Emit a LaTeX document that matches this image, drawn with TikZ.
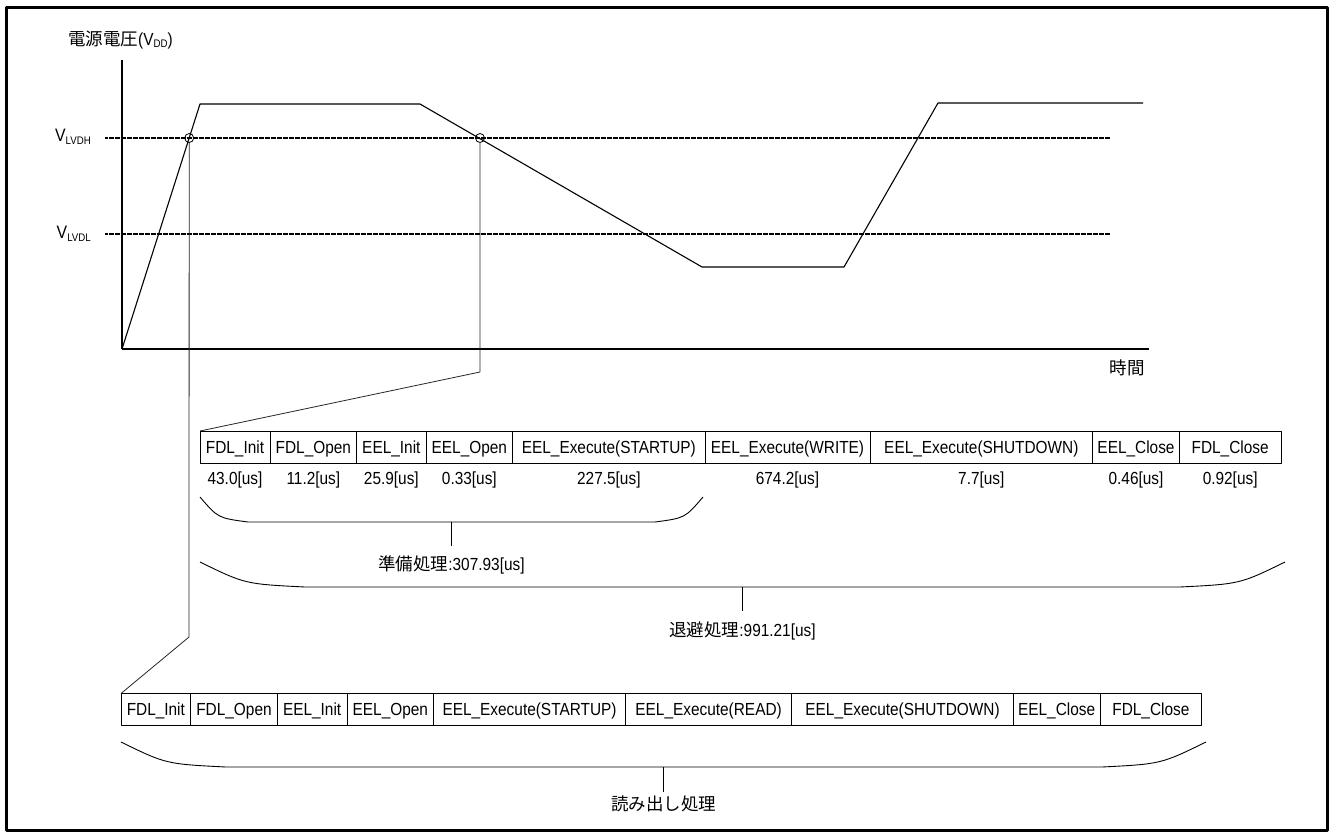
\documentclass[tikz,border=0pt]{standalone}
\usepackage{fontspec}
\setmainfont{Liberation Sans}[FakeStretch=0.88]
\newfontfamily\jp{Noto Sans CJK JP}
\usetikzlibrary{positioning}
\newcommand\lowtext[2][3pt]{\raisebox{-#1}{\fontsize{11}{12}\selectfont #2}}
\tikzset{
  cell/.style={draw, line width=0.8pt, inner sep=0pt, outer sep=0pt, minimum height=32,
    text height=12.5pt, text depth=0pt, font=\fontsize{17.5}{20}\selectfont},
  val/.style={inner sep=0pt, text height=12.5pt, text depth=0pt, font=\fontsize{17.5}{20}\selectfont},
  thresh/.style={line width=1.5pt, dash pattern=on 0.8pt off 0.4pt},
  crosspt/.style={draw, circle, line width=0.8pt, minimum size=9, inner sep=0pt},
  guide/.style={line width=0.8pt, black!85},
  brace/.style={line width=0.9pt},
  sumlabel/.style={inner sep=0pt, anchor=base, font=\fontsize{17.5}{20}\selectfont},
}
\begin{document}
\begin{tikzpicture}[x=1pt, y=-1pt, line join=round]
\useasboundingbox (0,0) rectangle (1330,836);
\draw[line width=3pt] (6,7) rectangle (1327,830);

% axes and levels
\node[anchor=base west, inner sep=0pt, font=\fontsize{17.5}{20}\selectfont] (vdd) at (68,45) {{\jp 電源電圧}(V\lowtext[2.5pt]{DD})};
\draw[line width=1.3pt] (122,60) -- (122,349);
\draw[line width=2pt] (122,349) -- (1149,349);
\node[anchor=base east, inner sep=0pt, font=\fontsize{17.5}{20}\selectfont\jp] (tlabel) at (1145,374) {時間};
\draw[thresh] (105,138) -- (1110,138);
\draw[thresh] (105,234) -- (1110,234);
\node[anchor=base east, inner sep=0pt, font=\fontsize{18}{18}\selectfont] (vh) at (91,141.7) {V\lowtext{LVDH}};
\node[anchor=base east, inner sep=0pt, font=\fontsize{18}{18}\selectfont] (vl) at (91,238) {V\lowtext{LVDL}};

% supply voltage
\draw[line width=1.1pt] (122,349) -- (200,104) -- (420,104) -- (702,267) -- (844,267) -- (938,103) -- (1143,103);
\node[crosspt] (c1) at (189.2,138) {};
\node[crosspt] (c2) at (480,138) {};

% save sequence
\node[cell, anchor=west, minimum width=70] (w1) at (200,447) {FDL\_Init};
\node[cell, minimum width=86.7, right=0pt of w1] (w2) {FDL\_Open};
\node[cell, minimum width=69.3, right=0pt of w2] (w3) {EEL\_Init};
\node[cell, minimum width=86.7, right=0pt of w3] (w4) {EEL\_Open};
\node[cell, minimum width=192.3, right=0pt of w4] (w5) {EEL\_Execute(STARTUP)};
\node[cell, minimum width=165, right=0pt of w5] (w6) {EEL\_Execute(WRITE)};
\node[cell, minimum width=222.7, right=0pt of w6] (w7) {EEL\_Execute(SHUTDOWN)};
\node[cell, minimum width=86.6, right=0pt of w7] (w8) {EEL\_Close};
\node[cell, minimum width=101.7, right=0pt of w8] (w9) {FDL\_Close};
\coordinate (vrow) at (0,478);
\node[val] (t1) at (w1 |- vrow) {43.0[us]};
\node[val] (t2) at (w2 |- vrow) {11.2[us]};
\node[val] (t3) at (w3 |- vrow) {25.9[us]};
\node[val] (t4) at (w4 |- vrow) {0.33[us]};
\node[val] (t5) at (w5 |- vrow) {227.5[us]};
\node[val] (t6) at (w6 |- vrow) {674.2[us]};
\node[val] (t7) at (w7 |- vrow) {7.7[us]};
\node[val] (t8) at (w8 |- vrow) {0.46[us]};
\node[val] (t9) at (w9 |- vrow) {0.92[us]};
\draw[guide] (c2.south) -- (480,372) -- (w1.north west);

% read sequence
\node[cell, anchor=west, minimum width=69.7] (r1) at (121,709.5) {FDL\_Init};
\node[cell, minimum width=86.6, right=0pt of r1] (r2) {FDL\_Open};
\node[cell, minimum width=69.7, right=0pt of r2] (r3) {EEL\_Init};
\node[cell, minimum width=86.7, right=0pt of r3] (r4) {EEL\_Open};
\node[cell, minimum width=191.7, right=0pt of r4] (r5) {EEL\_Execute(STARTUP)};
\node[cell, minimum width=166.4, right=0pt of r5] (r6) {EEL\_Execute(READ)};
\node[cell, minimum width=221.5, right=0pt of r6] (r7) {EEL\_Execute(SHUTDOWN)};
\node[cell, minimum width=86.7, right=0pt of r7] (r8) {EEL\_Close};
\node[cell, minimum width=101.7, right=0pt of r8] (r9) {FDL\_Close};
\draw[guide] (c1.south) -- (189,637) -- (r1.north west);

% totals
\draw[brace] (200,497) .. controls (218,518) .. (248,522) -- (655,522) .. controls (685,518) .. (703,497);
\coordinate (b1) at (451.5,522);
\draw[brace] (b1) -- ++(0,24);
\node[sumlabel] (prep) at (451.5,570) {{\jp 準備処理}:307.93[us]};
\draw[brace] (200,562) .. controls (245,584) .. (305,587) -- (1180,587) .. controls (1240,584) .. (1285,562);
\coordinate (b2) at (742.5,587);
\draw[brace] (b2) -- ++(0,24);
\node[sumlabel] (save) at (742.5,636) {{\jp 退避処理}:991.21[us]};
\draw[brace] (121,742) .. controls (166,764) .. (226,767) -- (1102,767) .. controls (1161,764) .. (1206,742);
\coordinate (b3) at (663.5,767);
\draw[brace] (b3) -- ++(0,24.5);
\node[sumlabel, font=\fontsize{17.5}{20}\selectfont\jp] (read) at (663.5,810) {読み出し処理};
\end{tikzpicture}
\end{document}
